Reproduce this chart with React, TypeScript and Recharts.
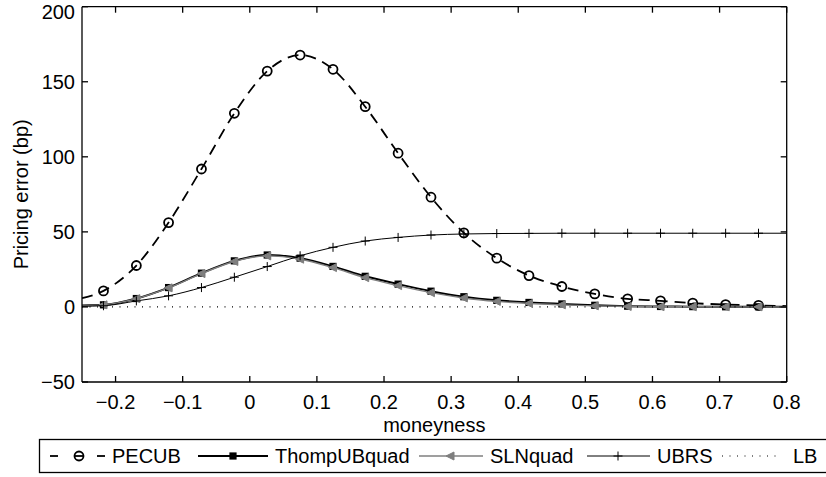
import React from 'react';
import { LineChart, Line, XAxis, YAxis } from 'recharts';

// moneyness grid: plot edges plus the 21 marker points
const moneyness = [
  -0.25, -0.218, -0.169, -0.121, -0.072, -0.023, 0.026, 0.075, 0.124, 0.172, 0.221, 0.27,
  0.319, 0.368, 0.416, 0.465, 0.514, 0.563, 0.612, 0.66, 0.709, 0.758, 0.8,
];
const hasMarker = [
  false, true, true, true, true, true, true, true, true, true, true, true,
  true, true, true, true, true, true, true, true, true, true, false,
];

const pecub = [
  5.8, 10.7, 27.6, 56.2, 91.9, 129, 157.1, 167.8, 158.3, 133.4, 102.4, 73.1,
  49.3, 32.5, 20.9, 13.6, 8.7, 5.4, 4.1, 2.5, 1.6, 1.0, 0.6,
];
const thompUBquad = [
  1.0, 1.4, 5.6, 12.9, 22.5, 30.7, 34.6, 32.5, 27.0, 20.4, 15.2, 10.5,
  6.8, 4.4, 3.0, 2.0, 1.1, 0.5, 0.3, 0.2, 0.1, 0.1, 0.05,
];
const slnQuad = [
  1.0, 1.4, 5.5, 12.7, 22.2, 30.3, 34.0, 31.8, 26.2, 19.5, 14.2, 9.5,
  6.0, 3.7, 2.3, 1.4, 0.7, 0.3, 0.15, 0.1, 0.05, 0.05, 0.03,
];
const ubrs = [
  0.5, 0.8, 4.0, 7.4, 12.9, 19.8, 26.9, 34.1, 39.7, 43.9, 46.3, 47.9,
  48.6, 48.9, 49.0, 49.1, 49.1, 49.1, 49.1, 49.1, 49.1, 49.1, 49.1,
];
const lb = [
  0, 0, 0, 0, 0, 0, 0, 0, 0, 0, 0, 0,
  0, 0, 0, 0, 0, 0, 0, 0, 0, 0, 0,
];

const xTicks = [-0.2, -0.1, 0, 0.1, 0.2, 0.3, 0.4, 0.5, 0.6, 0.7, 0.8];
const yTicks = [-50, 0, 50, 100, 150, 200];

const data = moneyness.map((x, i) => ({
  x,
  mark: hasMarker[i],
  pecub: pecub[i],
  thomp: thompUBquad[i],
  sln: slnQuad[i],
  ubrs: ubrs[i],
  lb: lb[i],
}));

const FONT = '"Liberation Sans", Arial, Helvetica, sans-serif';
const GRAY = '#7f7f7f';

const fmt = (v: number) => (v < 0 ? '\u2212' + Math.abs(v) : String(v));
const blank = () => '';

const circleDot = (p: any) =>
  p.payload.mark ? (
    <circle key={`pe-${p.index}`} cx={p.cx} cy={p.cy} r={4.5} fill="none" stroke="#000" strokeWidth={1.8} />
  ) : (
    <g key={`pe-${p.index}`} />
  );

const squareDot = (p: any) =>
  p.payload.mark ? (
    <rect key={`th-${p.index}`} x={p.cx - 3.6} y={p.cy - 3.6} width={7.2} height={7.2} fill="#000" />
  ) : (
    <g key={`th-${p.index}`} />
  );

const triangleDot = (p: any) =>
  p.payload.mark ? (
    <path
      key={`sl-${p.index}`}
      d={`M${p.cx - 4.5},${p.cy} L${p.cx + 3.5},${p.cy - 4} L${p.cx + 3.5},${p.cy + 4} Z`}
      fill={GRAY}
      stroke={GRAY}
      strokeWidth={1}
    />
  ) : (
    <g key={`sl-${p.index}`} />
  );

const plusDot = (p: any) =>
  p.payload.mark ? (
    <path
      key={`ub-${p.index}`}
      d={`M${p.cx - 4.5},${p.cy} H${p.cx + 4.5} M${p.cx},${p.cy - 4.5} V${p.cy + 4.5}`}
      stroke="#000"
      strokeWidth={1}
      fill="none"
    />
  ) : (
    <g key={`ub-${p.index}`} />
  );

const yLabel = (props: any) => {
  const vb = props.viewBox;
  const cx = vb.x + 21;
  const cy = vb.y + vb.height / 2;
  return (
    <text
      x={cx}
      y={cy}
      transform={`rotate(-90, ${cx}, ${cy})`}
      textAnchor="middle"
      dominantBaseline="central"
      fontSize={20}
      fontFamily={FONT}
      fill="#000"
    >
      Pricing error (bp)
    </text>
  );
};

const LegendBox = () => {
  const ty = 463;
  const textStyle = { fontSize: 20, fontFamily: FONT, fill: '#000' };
  return (
    <svg width={826} height={477} style={{ position: 'absolute', left: 0, top: 0, pointerEvents: 'none' }}>
      <rect x={39.5} y={439.5} width={800} height={33} fill="none" stroke="#000" strokeWidth={1.3} />
      {/* PECUB */}
      <line x1={50} y1={456} x2={58} y2={456} stroke="#000" strokeWidth={1.8} />
      <line x1={74} y1={456} x2={84} y2={456} stroke="#000" strokeWidth={1.8} />
      <line x1={97} y1={456} x2={105} y2={456} stroke="#000" strokeWidth={1.8} />
      <circle cx={79} cy={456} r={4.5} fill="none" stroke="#000" strokeWidth={1.8} />
      <text x={112} y={ty} {...textStyle}>PECUB</text>
      {/* ThompUBquad */}
      <line x1={198} y1={456} x2={268} y2={456} stroke="#000" strokeWidth={2} />
      <rect x={229.4} y={452.4} width={7.2} height={7.2} fill="#000" />
      <text x={275} y={ty} {...textStyle}>ThompUBquad</text>
      {/* SLNquad */}
      <line x1={419} y1={456} x2={483} y2={456} stroke={GRAY} strokeWidth={1.4} />
      <path d="M446,456 L454,452 L454,460 Z" fill={GRAY} stroke={GRAY} strokeWidth={1} />
      <text x={490} y={ty} {...textStyle}>SLNquad</text>
      {/* UBRS */}
      <line x1={587} y1={456} x2={650} y2={456} stroke="#000" strokeWidth={1} />
      <path d="M613.5,456 H622.5 M618,451.5 V460.5" stroke="#000" strokeWidth={1} />
      <text x={657} y={ty} {...textStyle}>UBRS</text>
      {/* LB */}
      <line x1={722} y1={456} x2={776} y2={456} stroke="#000" strokeWidth={1.2} strokeDasharray="1 6.5" />
      <text x={793} y={ty} {...textStyle}>LB</text>
    </svg>
  );
};

export default function App() {
  const tickStyle = { fill: '#000', fontSize: 20, fontFamily: FONT };
  const axisLine = { stroke: '#000', strokeWidth: 1.3 };
  return (
    <div style={{ position: 'absolute', left: 0, top: 0, width: 826, height: 477, background: '#fff' }}>
      <LineChart width={826} height={477} data={data} margin={{ top: 0, right: 0, bottom: 0, left: 0 }}>
        <XAxis
          dataKey="x"
          type="number"
          domain={[-0.25, 0.8]}
          ticks={xTicks}
          allowDataOverflow
          height={95}
          tickSize={-6}
          tickMargin={19}
          tick={tickStyle}
          tickFormatter={fmt}
          axisLine={axisLine}
          tickLine={axisLine}
          label={{ value: 'moneyness', position: 'insideTop', offset: 36, fill: '#000', fontSize: 20, fontFamily: FONT }}
        />
        <XAxis
          xAxisId="top"
          orientation="top"
          dataKey="x"
          type="number"
          domain={[-0.25, 0.8]}
          ticks={xTicks}
          allowDataOverflow
          height={6.7}
          tickSize={-6}
          tickFormatter={blank}
          axisLine={axisLine}
          tickLine={axisLine}
        />
        <YAxis
          type="number"
          domain={[-50, 200]}
          ticks={yTicks}
          allowDataOverflow
          width={82}
          tickSize={-6}
          tickMargin={13}
          tick={tickStyle}
          tickFormatter={fmt}
          axisLine={axisLine}
          tickLine={axisLine}
          label={{ content: yLabel }}
        />
        <YAxis
          yAxisId="right"
          orientation="right"
          type="number"
          domain={[-50, 200]}
          ticks={yTicks}
          allowDataOverflow
          width={39.3}
          tickSize={-6}
          tickFormatter={blank}
          axisLine={axisLine}
          tickLine={axisLine}
        />
        <Line
          dataKey="pecub"
          type="monotone"
          stroke="#000"
          strokeWidth={1.8}
          strokeDasharray="11 7"
          dot={circleDot}
          activeDot={false}
          isAnimationActive={false}
        />
        <Line
          dataKey="thomp"
          type="monotone"
          stroke="#000"
          strokeWidth={2}
          dot={squareDot}
          activeDot={false}
          isAnimationActive={false}
        />
        <Line
          dataKey="sln"
          type="monotone"
          stroke={GRAY}
          strokeWidth={1.4}
          dot={triangleDot}
          activeDot={false}
          isAnimationActive={false}
        />
        <Line
          dataKey="ubrs"
          type="monotone"
          stroke="#000"
          strokeWidth={1}
          dot={plusDot}
          activeDot={false}
          isAnimationActive={false}
        />
        <Line
          dataKey="lb"
          type="linear"
          stroke="#000"
          strokeWidth={1.2}
          strokeDasharray="1 6.5"
          dot={false}
          activeDot={false}
          isAnimationActive={false}
        />
      </LineChart>
      <LegendBox />
    </div>
  );
}
